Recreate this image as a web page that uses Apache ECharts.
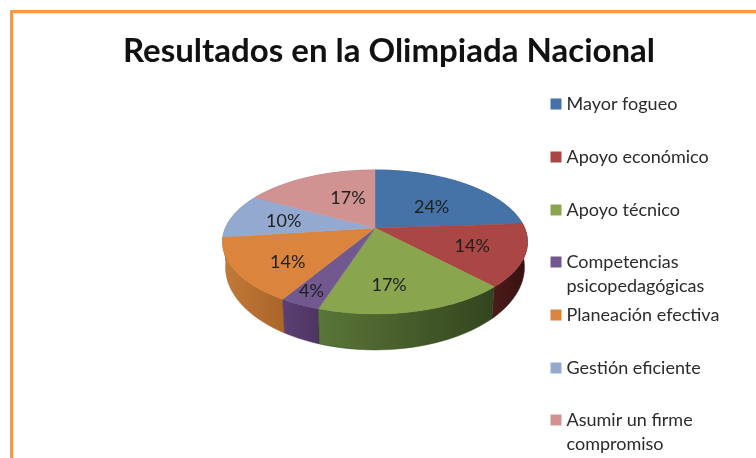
<!DOCTYPE html>
<html><head><meta charset="utf-8">
<style>html,body{margin:0;padding:0;background:#fff}#c{width:756px;height:458px}</style>
<script src="https://cdn.jsdelivr.net/npm/echarts@6/dist/echarts.min.js"></script>
</head><body><div id="c"></div>
<script>
const titleText = 'Resultados en la Olimpiada Nacional';
const categories = ['Mayor fogueo','Apoyo económico','Apoyo técnico','Competencias\npsicopedagógicas','Planeación efectiva','Gestión eficiente','Asumir un firme\ncompromiso'];
const percents = [24,14,17,3.6,14.4,10,17];
const topColors = ['#4572a7','#aa4643','#89a54e','#71588f','#db843d','#93a9cf','#d19392'];
const wallLeft = ['#2f4d72','#4d1c1a','#5a7638','#5c4076','#c27a38','#6f84a8','#a87473'];
const wallRight = ['#2f4d72','#361110','#33451f','#4d3560','#ab6529','#6f84a8','#a87473'];
const labelNudge = [[0,7],[10,2],[-8,11],[-22,21],[-7,10],[-5,1],[14.5,3]];
const legendCenters = [105,158,211,263,316,369,421];

// projection of the tilted disc
const CX=375, CY=228, RX=149.6, RY=69.3, P=0.194, DEPTH=23, FLOOR_X=0.98, FLOOR_Y=1.15;
function proj(deg,r){
  const a=deg*Math.PI/180, x=r*Math.sin(a), y=-r*Math.cos(a), w=1-P*y;
  return [RX*x/w, RY*y/w];
}
const top_=(deg,r=1)=>{const p=proj(deg,r);return [CX+p[0],CY+p[1]];};
const floor_=(deg)=>{const p=proj(deg,1);return [CX+p[0]*FLOOR_X,CY+p[1]*FLOOR_Y+DEPTH];};
const total=percents.reduce((a,b)=>a+b,0);
function startDeg(i){let s=0;for(let k=0;k<i;k++)s+=percents[k];return s/total*360;}

function renderSlice(i){
  const a0=startDeg(i), a1=a0+percents[i]/total*360, n=Math.max(6,Math.ceil((a1-a0)/2));
  const tops=[], floors=[];
  for(let k=0;k<=n;k++){const d=a0+(a1-a0)*k/n;tops.push(top_(d));floors.push(floor_(d));}
  const mid=(a0+a1)/2, lp=top_(mid,0.6);
  const meanY=tops.reduce((s,p)=>s+p[1],0)/tops.length;
  return {type:'group',children:[
    {type:'polygon',z2:Math.round(meanY-100),silent:true,
      shape:{points:tops.concat(floors.slice().reverse())},
      style:{fill:{type:'linear',x:0,y:0,x2:1,y2:0,colorStops:[{offset:0,color:wallLeft[i]},{offset:1,color:wallRight[i]}]},stroke:wallRight[i],lineWidth:0.5}},
    {type:'polygon',z2:500,silent:true,
      shape:{points:[[CX,CY]].concat(tops)},
      style:{fill:topColors[i],stroke:topColors[i],lineWidth:0.5}},
    {type:'text',z2:600,silent:true,x:lp[0]+labelNudge[i][0],y:lp[1]+labelNudge[i][1],
      style:{text:Math.round(percents[i])+'%',fill:'#1f1f1f',font:'18px Lato',align:'center',verticalAlign:'middle'}}
  ]};
}

const series=categories.map((name,i)=>({
  type:'custom',name,coordinateSystem:'none',animation:false,silent:true,
  itemStyle:{color:topColors[i]},
  data:[[percents[i]]],
  renderItem:()=>renderSlice(i)
}));
const legends=categories.map((name,i)=>{
  const h=name.includes('\n')?48:24;
  return {
    left:550.5,top:legendCenters[i]-13,orient:'vertical',padding:0,selectedMode:false,
    data:[{name,icon:`path://M0 0H0V0ZM0 6.5H11V17.5H0ZM11 ${h}H11V${h}Z`}],
    itemWidth:11,itemHeight:h,
    textStyle:{fontFamily:'Lato',fontSize:18,lineHeight:24,color:'#2b2b2b'}
  };
});

const chart=echarts.init(document.getElementById('c'),null,{renderer:'canvas'});
chart.setOption({
  animation:false,
  backgroundColor:'#ffffff',
  title:{text:titleText,left:123,top:35,padding:0,textStyle:{fontFamily:'Lato',fontWeight:'bold',fontSize:33,color:'#111'}},
  legend:legends,
  series,
  graphic:[
    {type:'rect',silent:true,shape:{x:10,y:13,width:756,height:1},style:{fill:'#fde6d2'}},
    {type:'rect',silent:true,shape:{x:13,y:10,width:1,height:458},style:{fill:'#fde6d2'}},
    {type:'rect',silent:true,shape:{x:10,y:10,width:746,height:3},style:{fill:'#f99846'}},
    {type:'rect',silent:true,shape:{x:10,y:10,width:3,height:448},style:{fill:'#f99846'}}
  ]
});
</script></body></html>
